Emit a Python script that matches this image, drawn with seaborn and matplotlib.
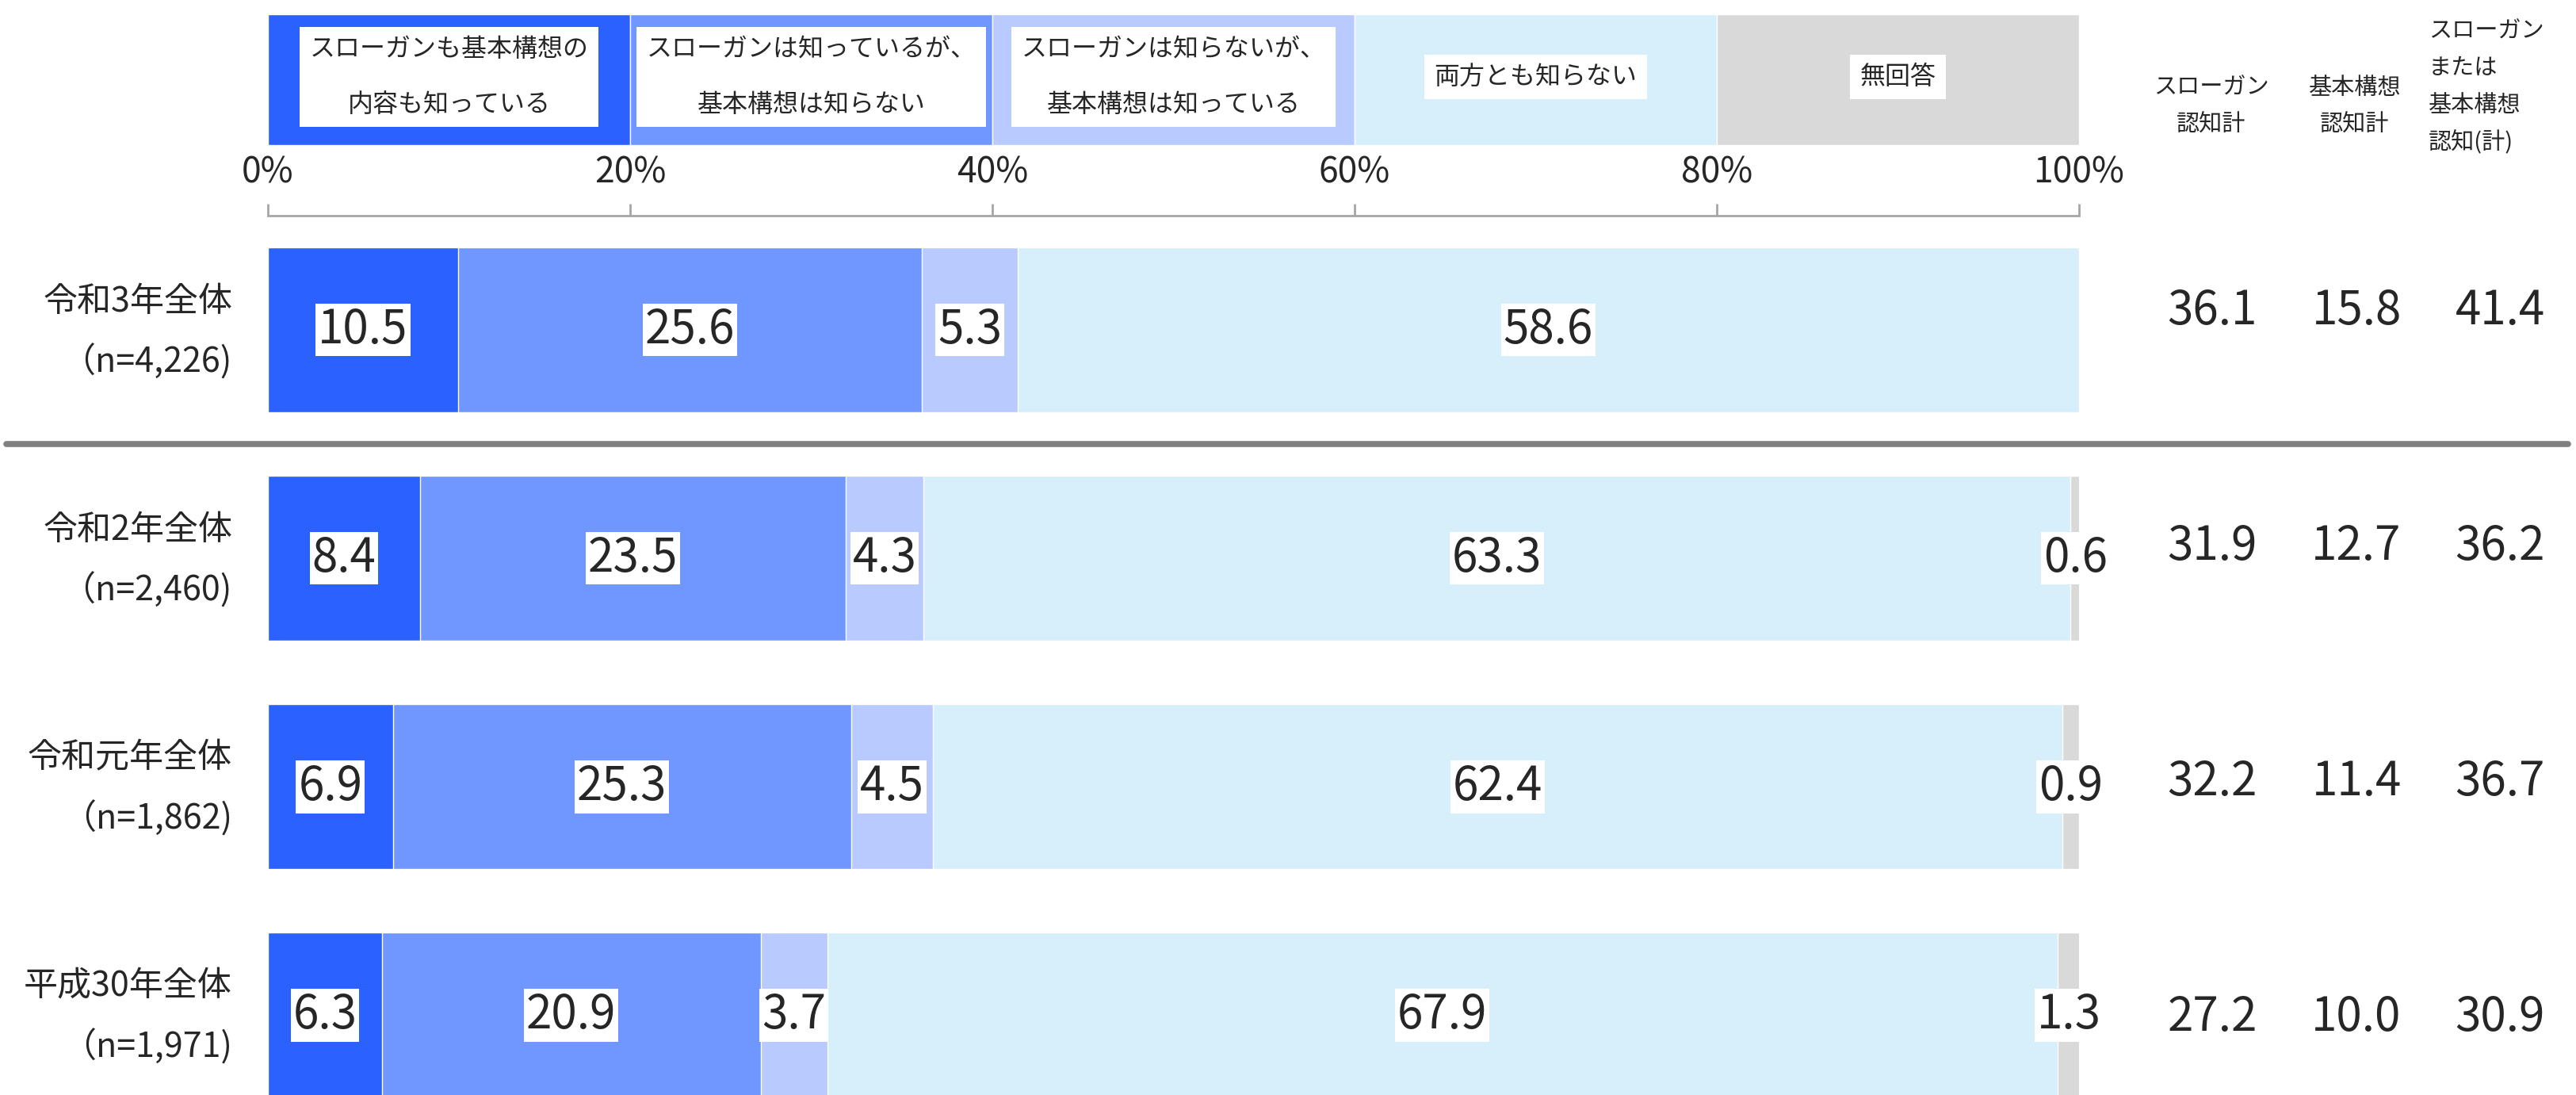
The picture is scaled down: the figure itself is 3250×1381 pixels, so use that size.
import numpy as np
import matplotlib
matplotlib.use("Agg")
import matplotlib.pyplot as plt
import matplotlib.transforms as mtransforms
from matplotlib.lines import Line2D
import pandas as pd
import seaborn as sns

# データ
rows = ["令和3年全体\n（n=4,226)", "令和2年全体\n（n=2,460)", "令和元年全体\n（n=1,862)", "平成30年全体\n（n=1,971)"]
both_know = [10.5, 8.4, 6.9, 6.3]
slogan_only = [25.6, 23.5, 25.3, 20.9]
plan_only = [5.3, 4.3, 4.5, 3.7]
neither = [58.6, 63.3, 62.4, 67.9]
no_answer = [0.0, 0.6, 0.9, 1.3]

slogan_total = [36.1, 31.9, 32.2, 27.2]
plan_total = [15.8, 12.7, 11.4, 10.0]
either_total = [41.4, 36.2, 36.7, 30.9]

legend_labels = ["スローガンも基本構想の\n内容も知っている",
                 "スローガンは知っているが、\n基本構想は知らない",
                 "スローガンは知らないが、\n基本構想は知っている",
                 "両方とも知らない",
                 "無回答"]
right_headers = ["スローガン\n認知計", "基本構想\n認知計", "スローガン\nまたは\n基本構想\n認知(計)"]
colors = ["#2B62FF", "#7096FF", "#B8CAFF", "#D7EEFB", "#D9D9D9"]

sns.set_theme(style="white")
plt.rcParams['font.family'] = ['Noto Sans CJK JP', 'DejaVu Sans']

W, H = 3250, 1381
fig = plt.figure(figsize=(W / 100, H / 100), dpi=100)

x0, x1 = 338, 2623
ax = fig.add_axes([x0 / W, 0, (x1 - x0) / W, 1 - 272 / H])

series = [both_know, slogan_only, plan_only, neither, no_answer]
df = pd.DataFrame({"row": rows})
cum = np.cumsum(np.array(series), axis=0)

# 累積値を後ろから重ねて積み上げ棒にする
for k in range(len(series) - 1, -1, -1):
    df["v"] = cum[k]
    sns.barplot(data=df, x="v", y="row", color=colors[k], saturation=1,
                width=0.72, orient="h", ax=ax, order=rows)

# 棒のラベル
for i in range(len(rows)):
    for k in range(len(series)):
        v = series[k][i]
        if v <= 0:
            continue
        c = cum[k][i] - v / 2
        ax.text(c, i, f"{v:.1f}", ha="center", va="center", fontsize=42,
                bbox=dict(boxstyle="square,pad=0.05", fc="white", ec="none"),
                zorder=5)

ax.set_xlim(0, 100)
ax.set_ylim(3.35, -0.5)
ax.set_xlabel("")
ax.set_ylabel("")
ax.set_yticks([])
ax.xaxis.tick_top()
ax.set_xticks([0, 20, 40, 60, 80, 100])
ax.set_xticklabels([f"{t}%" for t in range(0, 101, 20)], fontsize=32)
ax.tick_params(axis="x", direction="out", length=11, width=2,
               color="#A6A6A6", pad=12, top=True, bottom=False)
for s in ["bottom", "left", "right"]:
    ax.spines[s].set_visible(False)
ax.spines["top"].set_color("#A6A6A6")
ax.spines["top"].set_linewidth(2)

# 行ラベル
for i, r in enumerate(rows):
    ax.text(-1.97, i + 0.01, r, ha="right", va="center", fontsize=31,
            linespacing=1.89, clip_on=False)

# 区切り線
blend = mtransforms.blended_transform_factory(fig.transFigure, ax.transData)
fig.add_artist(Line2D([8 / W, 3240 / W], [0.5, 0.5], transform=blend,
                      color="#808080", lw=5.5))

# 右側の集計値（表の行間は棒よりわずかに広い）
col_x = [2791 / W, 2973 / W, 3154 / W]
for i in range(len(rows)):
    yy = i * 1.03 - 0.08
    for cx, vals in zip(col_x, [slogan_total, plan_total, either_total]):
        fig.text(cx, yy, f"{vals[i]:.1f}", ha="center", va="center",
                 fontsize=42, transform=blend)

head_x = [2790 / W, 2971 / W, 3064 / W]
head_y = [134, 134, 110]
head_ha = ["center", "center", "left"]
for hx, hy, ha, h in zip(head_x, head_y, head_ha, right_headers):
    fig.text(hx, 1 - hy / H, h, ha=ha, va="center", fontsize=21,
             linespacing=1.72, multialignment=ha)

# 凡例
ax_leg = fig.add_axes([x0 / W, 1 - 183 / H, (x1 - x0) / W, 165 / H])
for k, lab in enumerate(legend_labels):
    ax_leg.barh(0, 20, left=20 * k, height=1, color=colors[k])
    ax_leg.text(20 * k + 10, 0.02, lab, ha="center", va="center", fontsize=23,
                linespacing=2.5,
                bbox=dict(boxstyle="square,pad=0.38", fc="white", ec="none"))
ax_leg.set_xlim(0, 100)
ax_leg.set_ylim(-0.5, 0.5)
ax_leg.axis("off")

fig.savefig("out.png", dpi=100)
